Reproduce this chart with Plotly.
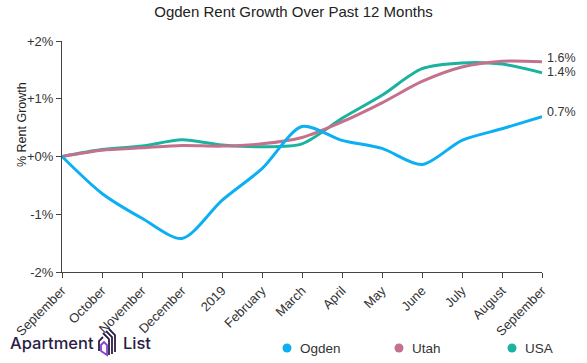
import plotly.graph_objects as go

months = ["September", "October", "November", "December", "2019", "February",
          "March", "April", "May", "June", "July", "August", "September"]
ogden = [0.0, -0.64, -1.07, -1.42, -0.76, -0.21, 0.52, 0.28, 0.14, -0.14, 0.28, 0.48, 0.69]
utah = [0.0, 0.11, 0.15, 0.19, 0.18, 0.22, 0.33, 0.60, 0.93, 1.30, 1.55, 1.65, 1.64]
usa = [0.0, 0.12, 0.18, 0.29, 0.20, 0.17, 0.22, 0.66, 1.06, 1.52, 1.62, 1.60, 1.45]
yticks = [-2, -1, 0, 1, 2]
yticklabels = ["-2%", "-1%", "+0%", "+1%", "+2%"]
end_labels = ["0.7%", "1.6%", "1.4%"]
series_names = ["Ogden", "Utah", "USA"]

c_ogden = "#0cb0f2"
c_utah = "#c4718b"
c_usa = "#19b3a0"
colors = [c_ogden, c_utah, c_usa]

L, R, T, B = 62, 542, 41, 272
W, H = 587, 363
def px(xp):
    return (xp - L) / (R - L)
def py(yp):
    return (B - yp) / (B - T)

x = list(range(len(months)))
fig = go.Figure()
for name, vals, col in [("USA", usa, c_usa), ("Utah", utah, c_utah), ("Ogden", ogden, c_ogden)]:
    fig.add_trace(go.Scatter(x=x, y=vals, mode="lines", name=name,
                             line=dict(color=col, width=3, shape="spline", smoothing=0.8),
                             showlegend=False, hoverinfo="skip"))

# end labels
for i, (vals, lab) in enumerate([(ogden, end_labels[0]), (utah, end_labels[1]), (usa, end_labels[2])]):
    fig.add_annotation(x=x[-1], y=vals[-1], text=lab, showarrow=False, xanchor="left", yanchor="middle",
                       xshift=3, yshift=[5, 4, 1][i], font=dict(size=12.5, color="#333333"))

# y axis title
fig.add_annotation(xref="paper", yref="paper", x=px(22), y=py(125), text="% Rent Growth", showarrow=False,
                   textangle=-90, xanchor="center", yanchor="middle", font=dict(size=12.5, color="#222222"))

# legend (manual, circles + text)
leg_x = [287, 399, 512]
leg_y = 348
for name, col, lx in zip(series_names, colors, leg_x):
    fig.add_shape(type="circle", xref="paper", yref="paper",
                  x0=px(lx - 4.5), x1=px(lx + 4.5), y0=py(leg_y + 4.5), y1=py(leg_y - 4.5),
                  fillcolor=col, line=dict(width=0))
    fig.add_annotation(xref="paper", yref="paper", x=px(lx + 11), y=py(leg_y), text=name, showarrow=False,
                       xanchor="left", yanchor="middle", font=dict(size=13.5, color="#333333"))

# logo
fig.add_annotation(xref="paper", yref="paper", x=px(8), y=py(343), text="Apartment", showarrow=False,
                   xanchor="left", yanchor="middle", font=dict(size=16.5, color="#2b1d45", family="Inter", weight=500))
fig.add_annotation(xref="paper", yref="paper", x=px(121), y=py(343), text="List", showarrow=False,
                   xanchor="left", yanchor="middle", font=dict(size=16.5, color="#2b1d45", family="Inter", weight=500))

def path(points, close=False):
    s = "M " + " L ".join(f"{px(a):.5f},{py(b):.5f}" for a, b in points)
    return s + (" Z" if close else "")

icon_col = "#2b1d45"
icon_paths = [
    [(99, 351), (99, 341), (103, 337)],
    [(103, 333), (109, 339), (109, 355)],
    [(106, 331), (112, 337), (112, 354)],
    [(109, 329), (115, 335), (115, 352)],
]
for pts in icon_paths:
    fig.add_shape(type="path", xref="paper", yref="paper", path=path(pts),
                  line=dict(color=icon_col, width=1.8))
fig.add_shape(type="path", xref="paper", yref="paper",
              path=path([(101, 345), (104, 342), (107, 345), (107, 355), (101, 351)], close=True),
              line=dict(color="#8a3fd1", width=1.8))

fig.update_layout(
    width=W, height=H,
    margin=dict(l=L, r=W - R, t=T, b=H - B, autoexpand=False),
    paper_bgcolor="white", plot_bgcolor="white",
    showlegend=False,
    font=dict(family="Liberation Sans, Arial, sans-serif", size=12, color="#333333"),
    title=dict(text="Ogden Rent Growth Over Past 12 Months", x=0.5, xref="container", xanchor="center",
               y=1 - 12 / H, yref="container", yanchor="middle", font=dict(size=15, color="#222222")),
    xaxis=dict(range=[0, 12], tickvals=x, ticktext=months, tickangle=-45, showgrid=False, zeroline=False,
               showline=True, linecolor="#444444", linewidth=1, ticks="outside", ticklen=5, tickcolor="#444444",
               tickfont=dict(size=13, color="#333333"), automargin=False),
    yaxis=dict(range=[-2, 2], tickvals=yticks, ticktext=yticklabels, showgrid=False, zeroline=False,
               showline=True, linecolor="#444444", linewidth=1, ticks="outside", ticklen=5, tickcolor="#444444",
               tickfont=dict(size=13, color="#333333"), automargin=False),
)

fig.write_html("out.html", config={"displayModeBar": False},
               post_script="document.body.style.margin='0';document.body.style.overflow='hidden';")
